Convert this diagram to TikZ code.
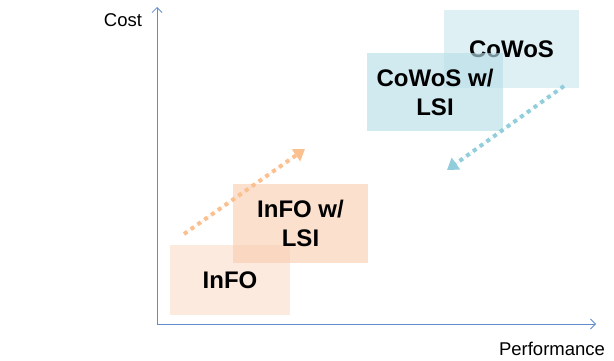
\documentclass[tikz,border=0pt]{standalone}
\usepackage{fontspec}
\setmainfont{Liberation Sans}
\usetikzlibrary{arrows.meta}
\definecolor{axisblue}{RGB}{96,140,206}
\definecolor{orangebox}{RGB}{248,203,173}
\definecolor{bluebox}{RGB}{183,222,232}
\definecolor{orangearrow}{RGB}{250,192,144}
\definecolor{bluearrow}{RGB}{146,205,220}
\tikzset{
  axisline/.style={draw=axisblue, line width=0.8pt, -{Straight Barb[length=5pt,width=10pt]}},
  axislabel/.style={font=\fontsize{18.5}{22}\selectfont, inner sep=0pt},
  techbox/.style={rectangle, inner sep=0pt, align=center, text=black,
    font=\fontsize{24}{29}\selectfont\bfseries},
  trendarrow/.style={line width=4pt, dash pattern=on 4pt off 4.3pt,
    -{Triangle[length=11pt,width=14pt]}},
}
\begin{document}
\begin{tikzpicture}[x=1pt,y=-1pt]
\useasboundingbox (0,0) rectangle (614,361);
% axes
\coordinate (origin) at (157,324);
\coordinate (ytop) at (157,7);
\coordinate (xend) at (596,324);
\draw[axisline] (origin) -- (ytop);
\draw[axisline] (origin) -- (xend);
\node[axislabel] (cost) at (123,20) {Cost};
\node[axislabel] (perf) at (552,349) {Performance};
% boxes
\node[techbox, fill=orangebox, fill opacity=0.4, text opacity=1,
  minimum width=120pt, minimum height=70pt] (info) at (230,280) {InFO};
\node[techbox, fill=orangebox, fill opacity=0.6, text opacity=1,
  minimum width=135pt, minimum height=79pt] (infolsi) at (300.5,223.5) {InFO w/\\LSI};
\node[techbox, fill=bluebox, fill opacity=0.45, text opacity=1,
  minimum width=135pt, minimum height=78pt] (cowos) at (511.5,49) {CoWoS};
\node[techbox, fill=bluebox, fill opacity=0.65, text opacity=1,
  minimum width=136pt, minimum height=78pt] (cowoslsi) at (435,92) {CoWoS w/\\LSI};
% trend arrows
\coordinate (oa) at (184,234);
\coordinate (ob) at (305,149);
\coordinate (ba) at (564,86);
\coordinate (bb) at (447,170);
\draw[trendarrow, draw=orangearrow, fill=orangearrow] (oa) -- (ob);
\draw[trendarrow, draw=bluearrow, fill=bluearrow] (ba) -- (bb);
\end{tikzpicture}
\end{document}
